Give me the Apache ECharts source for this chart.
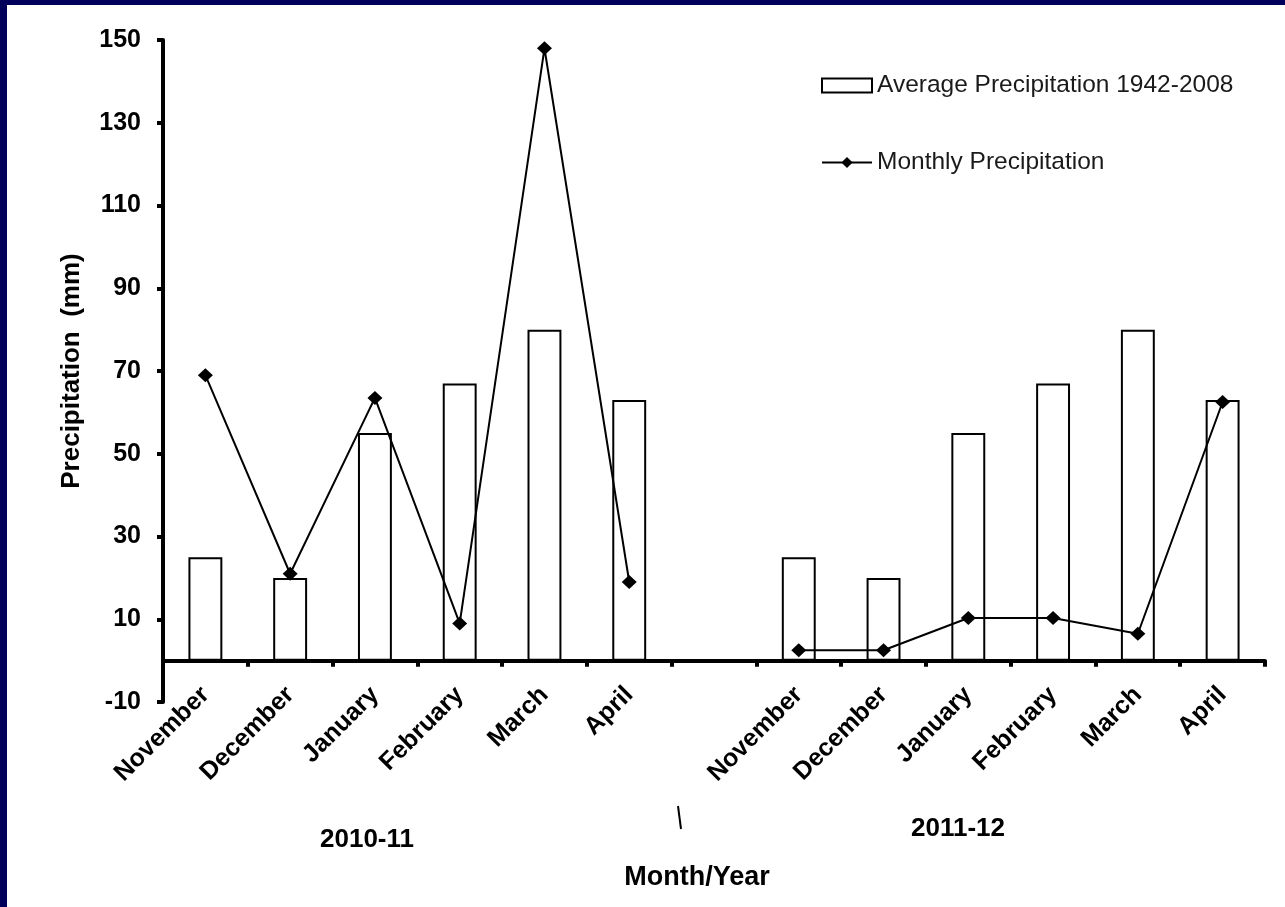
<!DOCTYPE html>
<html>
<head>
<meta charset="utf-8">
<script src="https://cdn.jsdelivr.net/npm/echarts@6/dist/echarts.min.js"></script>
<style>
  html, body { margin: 0; padding: 0; width: 1285px; height: 907px; background: #00005a; overflow: hidden; }
  #chart { position: absolute; left: 7px; top: 5px; width: 1278px; height: 902px; background: #ffffff; }
</style>
</head>
<body>
<div id="chart"></div>
<script>
// Categories (blank category separates the two seasons)
const categories = ['November','December','January','February','March','April','',
                    'November','December','January','February','March','April'];
// Average precipitation 1942-2008 (mm)
const averagePrecip = [25, 20, 55, 67, 80, 63, null, 25, 20, 55, 67, 80, 63];
// Monthly precipitation (mm)
const monthlyPrecip = [69, 21, 63.5, 9, 148, 19, null, 2.5, 2.5, 10.3, 10.3, 6.5, 62.5];
// Y tick labels
const yTicks = [-10, 10, 30, 50, 70, 90, 110, 130, 150];
// Season labels
const seasons = ['2010-11', '2011-12'];

const FONT = '"Liberation Sans", Arial, sans-serif';
const chart = echarts.init(document.getElementById('chart'));

chart.setOption({
  animation: false,
  backgroundColor: '#ffffff',
  grid: { left: 156, right: 20, top: 35, bottom: 205, containLabel: false },
  legend: {
    orient: 'vertical',
    left: 809,
    top: 63,
    itemWidth: 50,
    itemHeight: 14,
    itemGap: 52,
    textStyle: { fontFamily: FONT, fontSize: 24.5, color: '#1a1a1a', lineHeight: 24 },
    data: [
      { name: 'Average Precipitation 1942-2008', icon: 'rect',
        itemStyle: { color: '#ffffff', borderColor: '#000', borderWidth: 2 } },
      { name: 'Monthly Precipitation' }
    ]
  },
  xAxis: {
    type: 'category',
    data: categories,
    boundaryGap: true,
    axisLine: { onZero: true, lineStyle: { color: '#000', width: 4 } },
    axisTick: { show: true, inside: false, length: 6, lineStyle: { color: '#000', width: 4 } },
    axisLabel: {
      interval: 0, rotate: 45, margin: -11,
      fontFamily: FONT, fontSize: 25, fontWeight: 'bold', color: '#000'
    },
    splitLine: { show: false }
  },
  yAxis: {
    type: 'value',
    min: -10,
    max: 150,
    name: 'Precipitation  (mm)',
    nameLocation: 'middle',
    nameGap: 78,
    nameRotate: 90,
    nameTextStyle: { fontFamily: FONT, fontSize: 26, fontWeight: 'bold', color: '#000' },
    axisLine: { show: true, lineStyle: { color: '#000', width: 4 } },
    axisTick: { show: true, length: 6, lineStyle: { color: '#000', width: 4 }, customValues: yTicks },
    axisLabel: {
      customValues: yTicks, margin: 22,
      fontFamily: FONT, fontSize: 25, fontWeight: 'bold', color: '#000'
    },
    splitLine: { show: false }
  },
  series: [
    {
      name: 'Average Precipitation 1942-2008',
      type: 'bar',
      data: averagePrecip,
      barWidth: '40%',
      itemStyle: { color: '#ffffff', borderColor: '#000', borderWidth: 2 },
      z: 2
    },
    {
      name: 'Monthly Precipitation',
      type: 'line',
      data: monthlyPrecip,
      connectNulls: false,
      symbol: 'diamond',
      symbolSize: [15, 14],
      lineStyle: { color: '#000', width: 2 },
      itemStyle: { color: '#000' },
      z: 3
    }
  ],
  graphic: [
    { type: 'text', x: 360, y: 835,
      style: { text: seasons[0], fontFamily: FONT, fontSize: 26, fontWeight: 'bold', fill: '#000',
               textAlign: 'center', textVerticalAlign: 'middle' } },
    { type: 'text', x: 951, y: 824,
      style: { text: seasons[1], fontFamily: FONT, fontSize: 26, fontWeight: 'bold', fill: '#000',
               textAlign: 'center', textVerticalAlign: 'middle' } },
    { type: 'text', x: 690, y: 873,
      style: { text: 'Month/Year', fontFamily: FONT, fontSize: 27, fontWeight: 'bold', fill: '#000',
               textAlign: 'center', textVerticalAlign: 'middle' } },
    { type: 'line', shape: { x1: 671, y1: 801, x2: 674, y2: 824 },
      style: { stroke: '#000', lineWidth: 2 } }
  ]
});
</script>
</body>
</html>
